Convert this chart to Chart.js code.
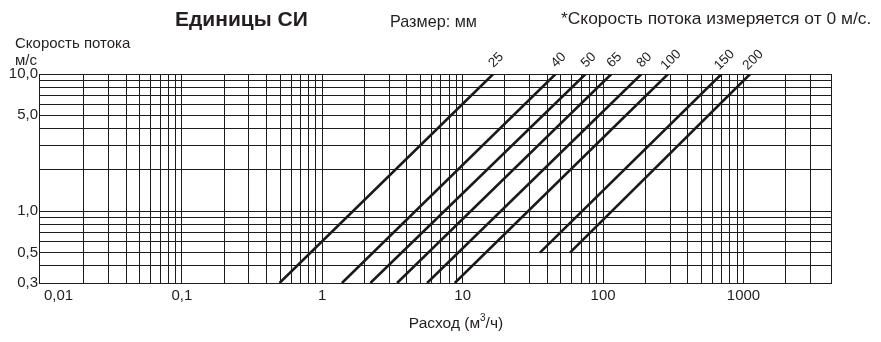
<!DOCTYPE html>
<html><head><meta charset="utf-8">
<script src="https://cdn.jsdelivr.net/npm/chart.js@4/dist/chart.umd.min.js"></script>
<style>html,body{margin:0;padding:0;background:#fff}#wrap{width:881px;height:342px;position:relative}</style>
</head><body><div id="wrap"><canvas id="c" width="881" height="342"></canvas></div>
<script>
// Pipe sizes (mm) and the end points of each constant-diameter line
const sizes = ['25', '40', '50', '65', '80', '100', '150', '200'];
const flowStart = [0.496, 1.38, 2.20, 3.41, 5.58, 8.78, 35.5, 58.1];
const velStart  = [0.3, 0.3, 0.3, 0.3, 0.3, 0.3, 0.5, 0.5];
const flowEnd   = [16.5, 45.9, 75.1, 114.6, 187.6, 290.3, 698, 1116];
const velEnd    = [10, 10, 10, 10, 10, 10, 10, 10];

// Axis ranges
const xMin = 0.0096, xMax = 4200;
const yMin = 0.3, yMax = 10;

// Tick labels
const xTickValues = [0.01, 0.1, 1, 10, 100, 1000];
const xTickLabels = ['0,01', '0,1', '1', '10', '100', '1000'];
const yTickValues = [10, 5, 1, 0.5, 0.3];
const yTickLabels = ['10,0', '5,0', '1,0', '0,5', '0,3'];

// Grid line values
const xGrid = [0.02,0.03,0.04,0.05,0.06,0.07,0.08,0.09,
  0.1,0.2,0.3,0.4,0.5,0.6,0.7,0.8,0.9,
  1,2,3,4,5,6,7,8,9,
  10,20,30,40,50,60,70,80,90,
  100,200,300,400,500,600,700,800,900,
  1000,2000,3000,4200];
const yGrid = [0.4,0.5,0.6,0.7,0.8,0.9,1,2,3,4,5,6,7,8,9,10];

const textColor = '#231f20';
const gridColor = '#1c1c1c';
const FONT = '"Liberation Sans", Arial, sans-serif';

const datasets = sizes.map((s, i) => ({
  label: s,
  data: [{x: flowStart[i], y: velStart[i]}, {x: flowEnd[i], y: velEnd[i]}],
  showLine: true,
  borderColor: '#1a1a1a',
  borderWidth: 2.6,
  pointRadius: 0,
  fill: false
}));

const textPlugin = {
  id: 'texts',
  afterDraw(chart) {
    const ctx = chart.ctx;
    const xs = chart.scales.x, ys = chart.scales.y;
    const area = chart.chartArea;
    ctx.save();
    ctx.fillStyle = textColor;
    // y tick labels
    ctx.font = '15px ' + FONT;
    ctx.textAlign = 'right';
    ctx.textBaseline = 'middle';
    yTickValues.forEach((v, i) => {
      ctx.fillText(yTickLabels[i], area.left - 1, ys.getPixelForValue(v));
    });
    // x tick labels
    xTickValues.forEach((v, i) => {
      const px = xs.getPixelForValue(v);
      if (px < area.left + 10) {
        ctx.textAlign = 'left';
        ctx.fillText(xTickLabels[i], area.left + 5, area.bottom + 13);
      } else {
        ctx.textAlign = 'center';
        ctx.fillText(xTickLabels[i], px, area.bottom + 13);
      }
    });
    // size labels at line ends
    ctx.font = '13.5px ' + FONT;
    ctx.textAlign = 'center';
    ctx.textBaseline = 'middle';
    sizes.forEach((s, i) => {
      const px = xs.getPixelForValue(flowEnd[i]);
      const py = ys.getPixelForValue(velEnd[i]);
      ctx.save();
      ctx.translate(px + 3, py - 14);
      ctx.rotate(-Math.PI / 4);
      ctx.fillText(s, 0, 0);
      ctx.restore();
    });
    // titles
    ctx.textAlign = 'left';
    ctx.textBaseline = 'alphabetic';
    ctx.font = 'bold 21px ' + FONT;
    ctx.fillText('Единицы СИ', 175, 26);
    ctx.font = '16.2px ' + FONT;
    ctx.fillText('Размер: мм', 390, 27);
    ctx.font = '17.4px ' + FONT;
    ctx.fillText('*Скорость потока измеряется от 0 м/с.', 561, 24);
    ctx.font = '15px ' + FONT;
    ctx.fillText('Скорость потока', 15, 48);
    ctx.fillText('м/с', 15, 65);
    // x axis title
    const cx = 456;
    ctx.font = '15.5px ' + FONT;
    const t1 = 'Расход (м', t2 = '3', t3 = '/ч)';
    const w1 = ctx.measureText(t1).width, w3 = ctx.measureText(t3).width;
    ctx.font = '10px ' + FONT;
    const w2 = ctx.measureText(t2).width;
    const total = w1 + w2 + w3;
    const sx = cx - total / 2;
    ctx.font = '15.5px ' + FONT;
    ctx.fillText(t1, sx, 328);
    ctx.font = '10px ' + FONT;
    ctx.fillText(t2, sx + w1, 321);
    ctx.font = '15.5px ' + FONT;
    ctx.fillText(t3, sx + w1 + w2, 328);
    ctx.restore();
  }
};

new Chart(document.getElementById('c'), {
  type: 'scatter',
  data: { datasets },
  options: {
    responsive: false,
    animation: false,
    devicePixelRatio: 1,
    layout: { padding: { left: 39, top: 74, right: 50, bottom: 59 } },
    plugins: { legend: { display: false }, tooltip: { enabled: false }, title: { display: false } },
    scales: {
      x: {
        type: 'logarithmic', min: xMin, max: xMax,
        ticks: { display: false },
        grid: { color: gridColor, lineWidth: 1, drawTicks: false },
        border: { display: true, color: gridColor, width: 1 },
        afterBuildTicks: (scale) => { scale.ticks = xGrid.map(v => ({ value: v })); }
      },
      y: {
        type: 'logarithmic', min: yMin, max: yMax,
        ticks: { display: false },
        grid: { color: gridColor, lineWidth: 1, drawTicks: false },
        border: { display: true, color: gridColor, width: 1 },
        afterBuildTicks: (scale) => { scale.ticks = yGrid.map(v => ({ value: v })); }
      }
    }
  },
  plugins: [textPlugin]
});
</script>
</body></html>
